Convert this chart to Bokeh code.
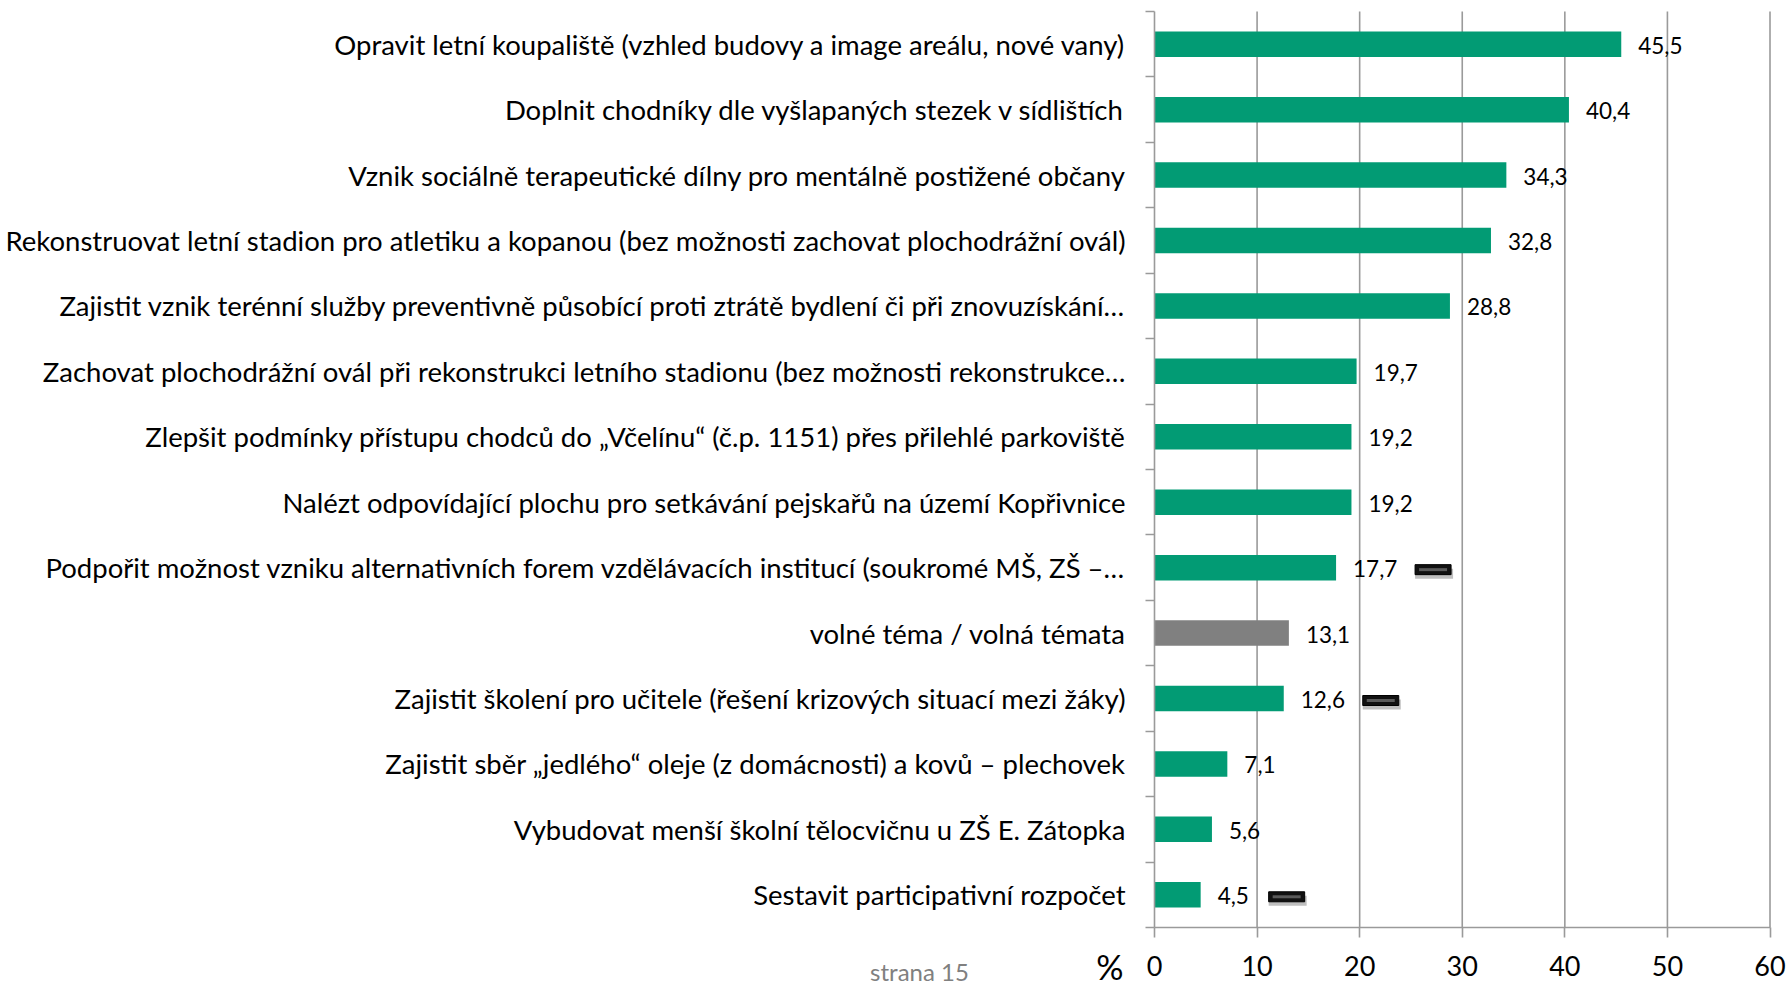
from bokeh.plotting import figure
from bokeh.models import Range1d, FixedTicker, Label
from bokeh.embed import file_html
from bokeh.resources import INLINE
from bokeh.core.properties import value

categories = [
    "Opravit letní koupaliště (vzhled budovy a image areálu, nové vany)",
    "Doplnit chodníky dle vyšlapaných stezek v sídlištích",
    "Vznik sociálně terapeutické dílny pro mentálně postižené občany",
    "Rekonstruovat letní stadion pro atletiku a kopanou (bez možnosti zachovat plochodrážní ovál)",
    "Zajistit vznik terénní služby preventivně působící proti ztrátě bydlení či při znovuzískání…",
    "Zachovat plochodrážní ovál při rekonstrukci letního stadionu (bez možnosti rekonstrukce…",
    "Zlepšit podmínky přístupu chodců do „Včelínu“ (č.p. 1151) přes přilehlé parkoviště",
    "Nalézt odpovídající plochu pro setkávání pejskařů na území Kopřivnice",
    "Podpořit možnost vzniku alternativních forem vzdělávacích institucí (soukromé MŠ, ZŠ –…",
    "volné téma / volná témata",
    "Zajistit školení pro učitele (řešení krizových situací mezi žáky)",
    "Zajistit sběr „jedlého“ oleje (z domácnosti) a kovů – plechovek",
    "Vybudovat menší školní tělocvičnu u ZŠ E. Zátopka",
    "Sestavit participativní rozpočet",
]
values = [45.5, 40.4, 34.3, 32.8, 28.8, 19.7, 19.2, 19.2, 17.7, 13.1, 12.6, 7.1, 5.6, 4.5]
free_topic = [False, False, False, False, False, False, False, False, False, True, False, False, False, False]
flagged = [False, False, False, False, False, False, False, False, True, False, True, False, False, True]
x_ticks = [0, 10, 20, 30, 40, 50, 60]
x_label = "%"
footer = "strana 15"

n = len(categories)
ypos = [n - 1 - i for i in range(n)]
val_labels = [f"{v:.1f}".replace(".", ",") for v in values]
colors = ["#808080" if f else "#029B74" for f in free_topic]

# ---- layout (pixels) ----
W, H = 1787, 988
AX_LEFT, AX_RIGHT = 1154.0, 1769.5     # screen x of 0 and 60
AX_TOP, AX_BOTTOM = 11.0, 927.0        # screen y of top and bottom of the category band
px_x = (AX_RIGHT - AX_LEFT) / (x_ticks[-1] - x_ticks[0])
px_y = (AX_BOTTOM - AX_TOP) / n
y_lo, y_hi = -0.5, n - 0.5
x_start = x_ticks[0] - AX_LEFT / px_x
x_end = x_ticks[-1] + (W - AX_RIGHT) / px_x
y_start = y_lo - (H - AX_BOTTOM) / px_y
y_end = y_hi + AX_TOP / px_y

p = figure(width=W, height=H, x_range=Range1d(x_start, x_end),
           y_range=Range1d(y_start, y_end), output_backend="svg",
           toolbar_location=None, min_border=0)
p.outline_line_color = None
p.background_fill_color = "white"
p.border_fill_color = "white"
p.xgrid.visible = False
p.ygrid.visible = False

grey = "#9A9A9A"

# vertical grid lines
p.segment(x0=x_ticks[1:], y0=y_lo, x1=x_ticks[1:], y1=y_hi, line_color=grey, line_width=1.6)

# x axis (at bottom of category band)
xa = p.xaxis[0]
xa.fixed_location = y_lo
xa.bounds = (x_ticks[0], x_ticks[-1])
xa.ticker = FixedTicker(ticks=x_ticks)
xa.axis_line_color = grey
xa.axis_line_width = 1.6
xa.major_tick_line_color = grey
xa.major_tick_line_width = 1.6
xa.major_tick_out = 10
xa.major_tick_in = 0
xa.minor_tick_line_color = None
xa.major_label_standoff = 18
xa.major_label_text_font = "Lato"
xa.major_label_text_font_size = "27px"
xa.major_label_text_color = "black"

# y axis (at x = 0)
ya = p.yaxis[0]
ya.fixed_location = x_ticks[0]
ya.bounds = (y_lo, y_hi)
ya.ticker = FixedTicker(ticks=ypos, minor_ticks=[i - 0.5 for i in range(n + 1)])
ya.major_label_overrides = {y: c for y, c in zip(ypos, categories)}
ya.axis_line_color = grey
ya.axis_line_width = 1.6
ya.major_tick_line_color = None
ya.major_tick_out = 9
ya.major_tick_in = 0
ya.minor_tick_line_color = grey
ya.minor_tick_line_width = 1.6
ya.minor_tick_out = 9
ya.minor_tick_in = 0
ya.major_label_standoff = 20
ya.major_label_text_font = "Lato"
ya.major_label_text_font_size = "27.5px"
ya.major_label_text_color = "black"

# bars
p.hbar(y=ypos, left=0, right=values, height=0.39, fill_color=colors, line_color=None)

# value labels
p.text(x=values, y=ypos, text=val_labels, x_offset=17, y_offset=1,
       text_baseline="middle", text_align="left", text_font=value("Lato"),
       text_font_size="22.5px", text_color="black")

# small dark markers after flagged labels
mx, my = [], []
for v, y, lab, f in zip(values, ypos, val_labels, flagged):
    if f:
        mx.append(v + (17 + 11 * len(lab) + 18 + 18) / px_x)
        my.append(y - 2 / px_y)
sx = [x + 1 / px_x for x in mx]
sy = [y - 4 / px_y for y in my]
p.rect(x=sx, y=sy, width=38, height=10, width_units="screen", height_units="screen",
       fill_color="#000000", fill_alpha=0.25, line_color=None)
p.rect(x=mx, y=my, width=36, height=10, width_units="screen", height_units="screen",
       fill_color="#111111", line_color="#000000", line_width=1)
p.rect(x=mx, y=my, width=28, height=3, width_units="screen", height_units="screen",
       fill_color="#5a5a5a", line_color=None)

p.add_layout(Label(x=1123, y=H - 966, x_units="screen", y_units="screen", text=x_label,
                   text_align="right", text_baseline="middle", text_font="Lato",
                   text_font_size="34px", text_color="black"))
p.add_layout(Label(x=919, y=H - 971, x_units="screen", y_units="screen", text=footer,
                   text_align="center", text_baseline="middle", text_font="Lato",
                   text_font_size="24px", text_color="#808080"))

open("out.html", "w").write(file_html(p, INLINE))
